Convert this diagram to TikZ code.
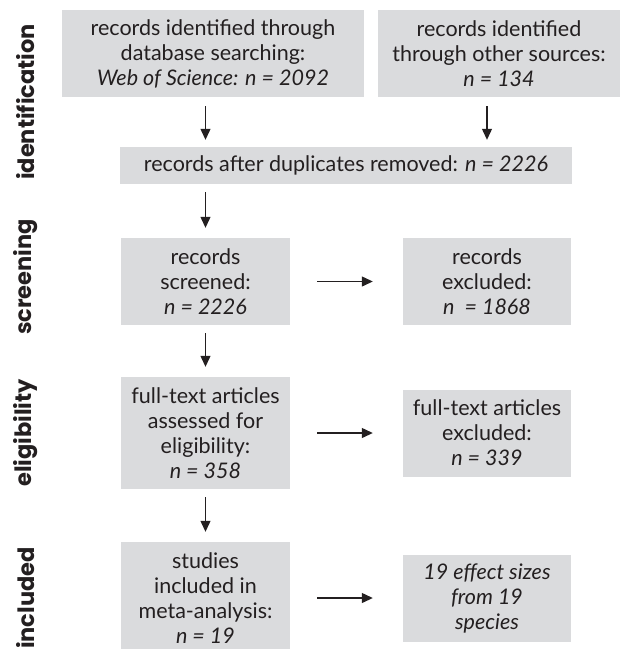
\documentclass[tikz,border=0pt]{standalone}
\usepackage{fontspec}
\setmainfont{Lato}
\newfontfamily\stagefont{Poppins}
\usepackage{xcolor}
\usepackage{tikz}
\usetikzlibrary{arrows.meta}
\definecolor{boxgrey}{RGB}{218,219,221}
\definecolor{inkgrey}{RGB}{35,31,32}
\tikzstyle{grey node}=[fill=boxgrey, draw=none, shape=rectangle, inner sep=0pt, align=center, text=inkgrey, font=\fontsize{21.5}{25}\selectfont]
\tikzstyle{stage node}=[rotate=90, inner sep=0pt, text=inkgrey, font=\stagefont\bfseries\fontsize{22.5}{25}\selectfont]
\tikzstyle{flow edge}=[draw=inkgrey, line width=1.2pt, -{Triangle[length=11pt,width=10pt]}]
\pgfdeclarelayer{nodelayer}
\pgfdeclarelayer{edgelayer}
\pgfsetlayers{nodelayer,edgelayer,main}

\begin{document}
\begin{tikzpicture}[x=1pt, y=-1pt]
    	\useasboundingbox (0, 0) rectangle (620, 649);
    	\begin{pgfonlayer}{nodelayer}
    		\node [style=grey node, minimum width=302pt, minimum height=87pt] (0) at (213, 53.5) {records identified through\\database searching:\\\textit{Web of Science: n = 2092}};
    		\node [style=grey node, minimum width=242pt, minimum height=87pt] (1) at (499, 53.5) {records identified\\through other sources:\\\textit{n = 134}};
    		\node [style=grey node, minimum width=452pt, minimum height=37pt] (2) at (346, 165.5) {records after duplicates removed: \textit{n = 2226}};
    		\node [style=grey node, minimum width=169pt, minimum height=87pt] (3) at (205.5, 281.5) {records\\screened:\\\textit{n = 2226}};
    		\node [style=grey node, minimum width=168pt, minimum height=87pt] (4) at (487, 281.5) {records\\excluded:\\\textit{n \ = 1868}};
    		\node [style=grey node, minimum width=169pt, minimum height=112pt] (5) at (205.5, 433) {full-text articles\\assessed for\\eligibility:\\\textit{n = 358}};
    		\node [style=grey node, minimum width=168pt, minimum height=87pt] (6) at (487, 433) {full-text articles\\excluded:\\\textit{n = 339}};
    		\node [style=grey node, minimum width=169pt, minimum height=112pt] (7) at (205.5, 598) {studies\\included in\\meta-analysis:\\\textit{n = 19}};
    		\node [style=grey node, minimum width=168pt, minimum height=87pt] (8) at (487, 598) {\textit{19 effect sizes}\\\textit{from 19}\\\textit{species}};
    		\node [style=stage node] (9) at (26, 102) {identification};
    		\node [style=stage node] (10) at (26, 277) {screening};
    		\node [style=stage node] (11) at (26, 433) {eligibility};
    		\node [style=stage node] (12) at (26, 598) {included};
    	\end{pgfonlayer}
    	\begin{pgfonlayer}{edgelayer}
    		\draw [style=flow edge, shorten <=9pt, shorten >=7pt] (0.south -| 3.center) to (2.north -| 3.center);
    		\draw [style=flow edge, shorten <=9pt, shorten >=7pt] (1.south -| 4.center) to (2.north -| 4.center);
    		\draw [style=flow edge, shorten <=8pt, shorten >=10pt] (2.south -| 3.center) to (3.north);
    		\draw [style=flow edge, shorten <=8pt, shorten >=10pt] (3.south) to (5.north);
    		\draw [style=flow edge, shorten <=8pt, shorten >=10pt] (5.south) to (7.north);
    		\draw [style=flow edge, shorten <=27pt, shorten >=30pt] (3.east) to (4.west);
    		\draw [style=flow edge, shorten <=27pt, shorten >=30pt] (5.east) to (6.west);
    		\draw [style=flow edge, shorten <=27pt, shorten >=30pt] (7.east) to (8.west);
    	\end{pgfonlayer}
    \end{tikzpicture}
\end{document}
